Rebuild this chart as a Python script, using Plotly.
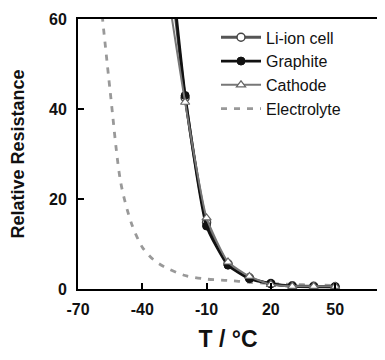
import plotly.graph_objects as go

temps = [-30, -20, -10, 0, 10, 20, 30, 40, 50]
li_ion = [84, 42.5, 14.8, 5.6, 2.5, 1.2, 0.7, 0.6, 0.5]
graphite = [88, 43.0, 14.0, 5.3, 2.3, 1.2, 0.6, 0.5, 0.5]
cathode = [72, 41.5, 15.8, 6.0, 2.8, 1.0, 0.6, 0.6, 0.6]

elec_temps = [-62, -60, -55, -50, -45, -40, -35, -30, -20, -10, 0, 10, 20, 30, 40, 50]
electrolyte = [78, 67, 44, 23.5, 14.5, 9.3, 6.6, 5.0, 3.0, 2.2, 1.9, 1.5, 1.2, 1.0, 0.9, 0.8]

x_ticks = [-70, -40, -10, 20, 50]
y_ticks = [0, 20, 40, 60]

FONT = "Liberation Sans, Arial, sans-serif"

fig = go.Figure()
fig.add_trace(go.Scatter(
    x=elec_temps, y=electrolyte, name="Electrolyte", mode="lines",
    line=dict(color="#999999", width=2.8, dash="6px,7px", shape="spline", smoothing=0.8),
    legendrank=4,
))
fig.add_trace(go.Scatter(
    x=temps, y=li_ion, name="Li-ion cell", mode="lines+markers",
    line=dict(color="#555555", width=2.8, shape="spline", smoothing=0.5),
    marker=dict(symbol="circle", size=8, color="white", line=dict(color="#444444", width=1.5)),
    legendrank=1,
))
fig.add_trace(go.Scatter(
    x=temps, y=graphite, name="Graphite", mode="lines+markers",
    line=dict(color="#111111", width=2.8, shape="spline", smoothing=0.5),
    marker=dict(symbol="circle", size=8, color="#111111", line=dict(color="#111111", width=1)),
    legendrank=2,
))
fig.add_trace(go.Scatter(
    x=temps, y=cathode, name="Cathode", mode="lines+markers",
    line=dict(color="#777777", width=2, shape="spline", smoothing=0.5),
    marker=dict(symbol="triangle-up", size=8, color="white", line=dict(color="#666666", width=1.2)),
    legendrank=3,
))

# The page body has an 8px default margin, so the figure is offset by (8, 8).
fig.update_layout(
    width=371, height=344,
    margin=dict(l=70, r=1, t=11, b=63),
    paper_bgcolor="white", plot_bgcolor="white",
    font=dict(family=FONT, color="#111111"),
    showlegend=True,
    legend=dict(x=0.46, y=0.995, xanchor="left", yanchor="top",
                bgcolor="rgba(0,0,0,0)", font=dict(size=16, family=FONT),
                tracegroupgap=0, itemwidth=40),
)
fig.update_xaxes(
    range=[-70, 70], tickvals=x_ticks, ticktext=[str(v) for v in x_ticks],
    showgrid=False, zeroline=False, automargin=False,
    showline=True, linecolor="black", linewidth=2, mirror=True,
    ticks="inside", ticklen=6, tickwidth=2, tickcolor="black",
    ticklabelstandoff=5,
    tickfont=dict(size=16, family=FONT, weight="bold"),
    title=dict(text="T / °C", font=dict(size=23, family=FONT, weight="bold"), standoff=24),
)
fig.update_yaxes(
    range=[0, 60], tickvals=y_ticks, ticktext=[str(v) for v in y_ticks],
    showgrid=False, zeroline=False, automargin=False,
    showline=True, linecolor="black", linewidth=2, mirror=True,
    ticks="inside", ticklen=6, tickwidth=2, tickcolor="black",
    ticklabelstandoff=6,
    tickfont=dict(size=16, family=FONT, weight="bold"),
    title=dict(text="Relative Resistance", font=dict(size=18, family=FONT, weight="bold"), standoff=20),
)

fig.write_html("out.html")
